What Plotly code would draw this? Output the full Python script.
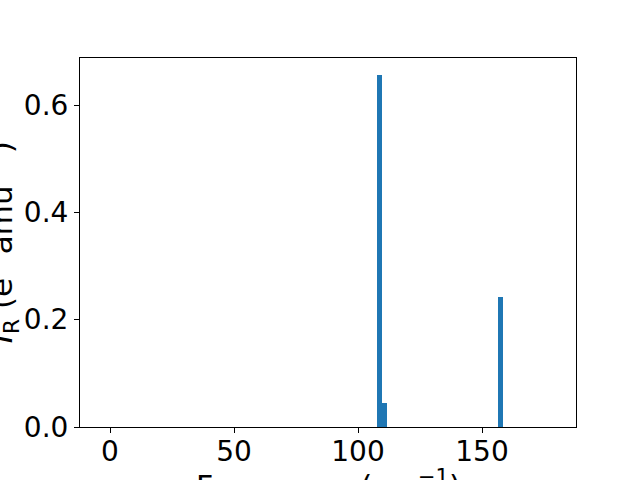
import plotly.graph_objects as go

# Data (bin centers in cm^-1, intensities)
frequencies = [108.7, 110.7, 157.5]
intensities = [0.656, 0.045, 0.242]
bin_width = 2.0

x_ticks = [0, 50, 100, 150]
y_ticks = [0.0, 0.2, 0.4, 0.6]
y_tick_labels = ["0.0", "0.2", "0.4", "0.6"]

FONT = "DejaVu Sans"

fig = go.Figure()
fig.add_trace(go.Bar(
    x=frequencies, y=intensities, width=[bin_width] * len(frequencies),
    marker=dict(color="#1f77b4", line=dict(width=0)),
))

axis_common = dict(
    showline=True, linecolor="black", linewidth=1, mirror=True,
    ticks="outside", ticklen=5, tickwidth=1, tickcolor="black",
    showgrid=False, zeroline=False, automargin=False,
    tickfont=dict(family=FONT, size=28, color="black"),
)

fig.update_layout(
    width=640, height=480,
    margin=dict(l=80, r=64, t=58, b=53),
    paper_bgcolor="white", plot_bgcolor="white",
    showlegend=False,
    bargap=0,
    xaxis=dict(range=[-12.1, 187.9], tickvals=x_ticks, ticklabelstandoff=-6, **axis_common),
    yaxis=dict(range=[0, 0.6876], tickvals=y_ticks, ticktext=y_tick_labels, **axis_common),
    annotations=[
        dict(text="Frequency (cm<sup>−1</sup>)", xref="paper", yref="paper",
             x=0.5, y=-0.155, xanchor="center", yanchor="middle", showarrow=False,
             font=dict(family=FONT, size=30, color="black")),
        dict(text="<i>I</i><sub>R</sub> (e<sup>2</sup>\u00a0amu<sup>−1</sup>)", xref="paper", yref="paper",
             x=-0.158, y=0.5, xanchor="center", yanchor="middle", textangle=-90,
             showarrow=False, font=dict(family=FONT, size=31, color="black")),
    ],
)

fig.write_html("out.html", config={"displayModeBar": False},
               post_script="document.body.style.margin='0';")
